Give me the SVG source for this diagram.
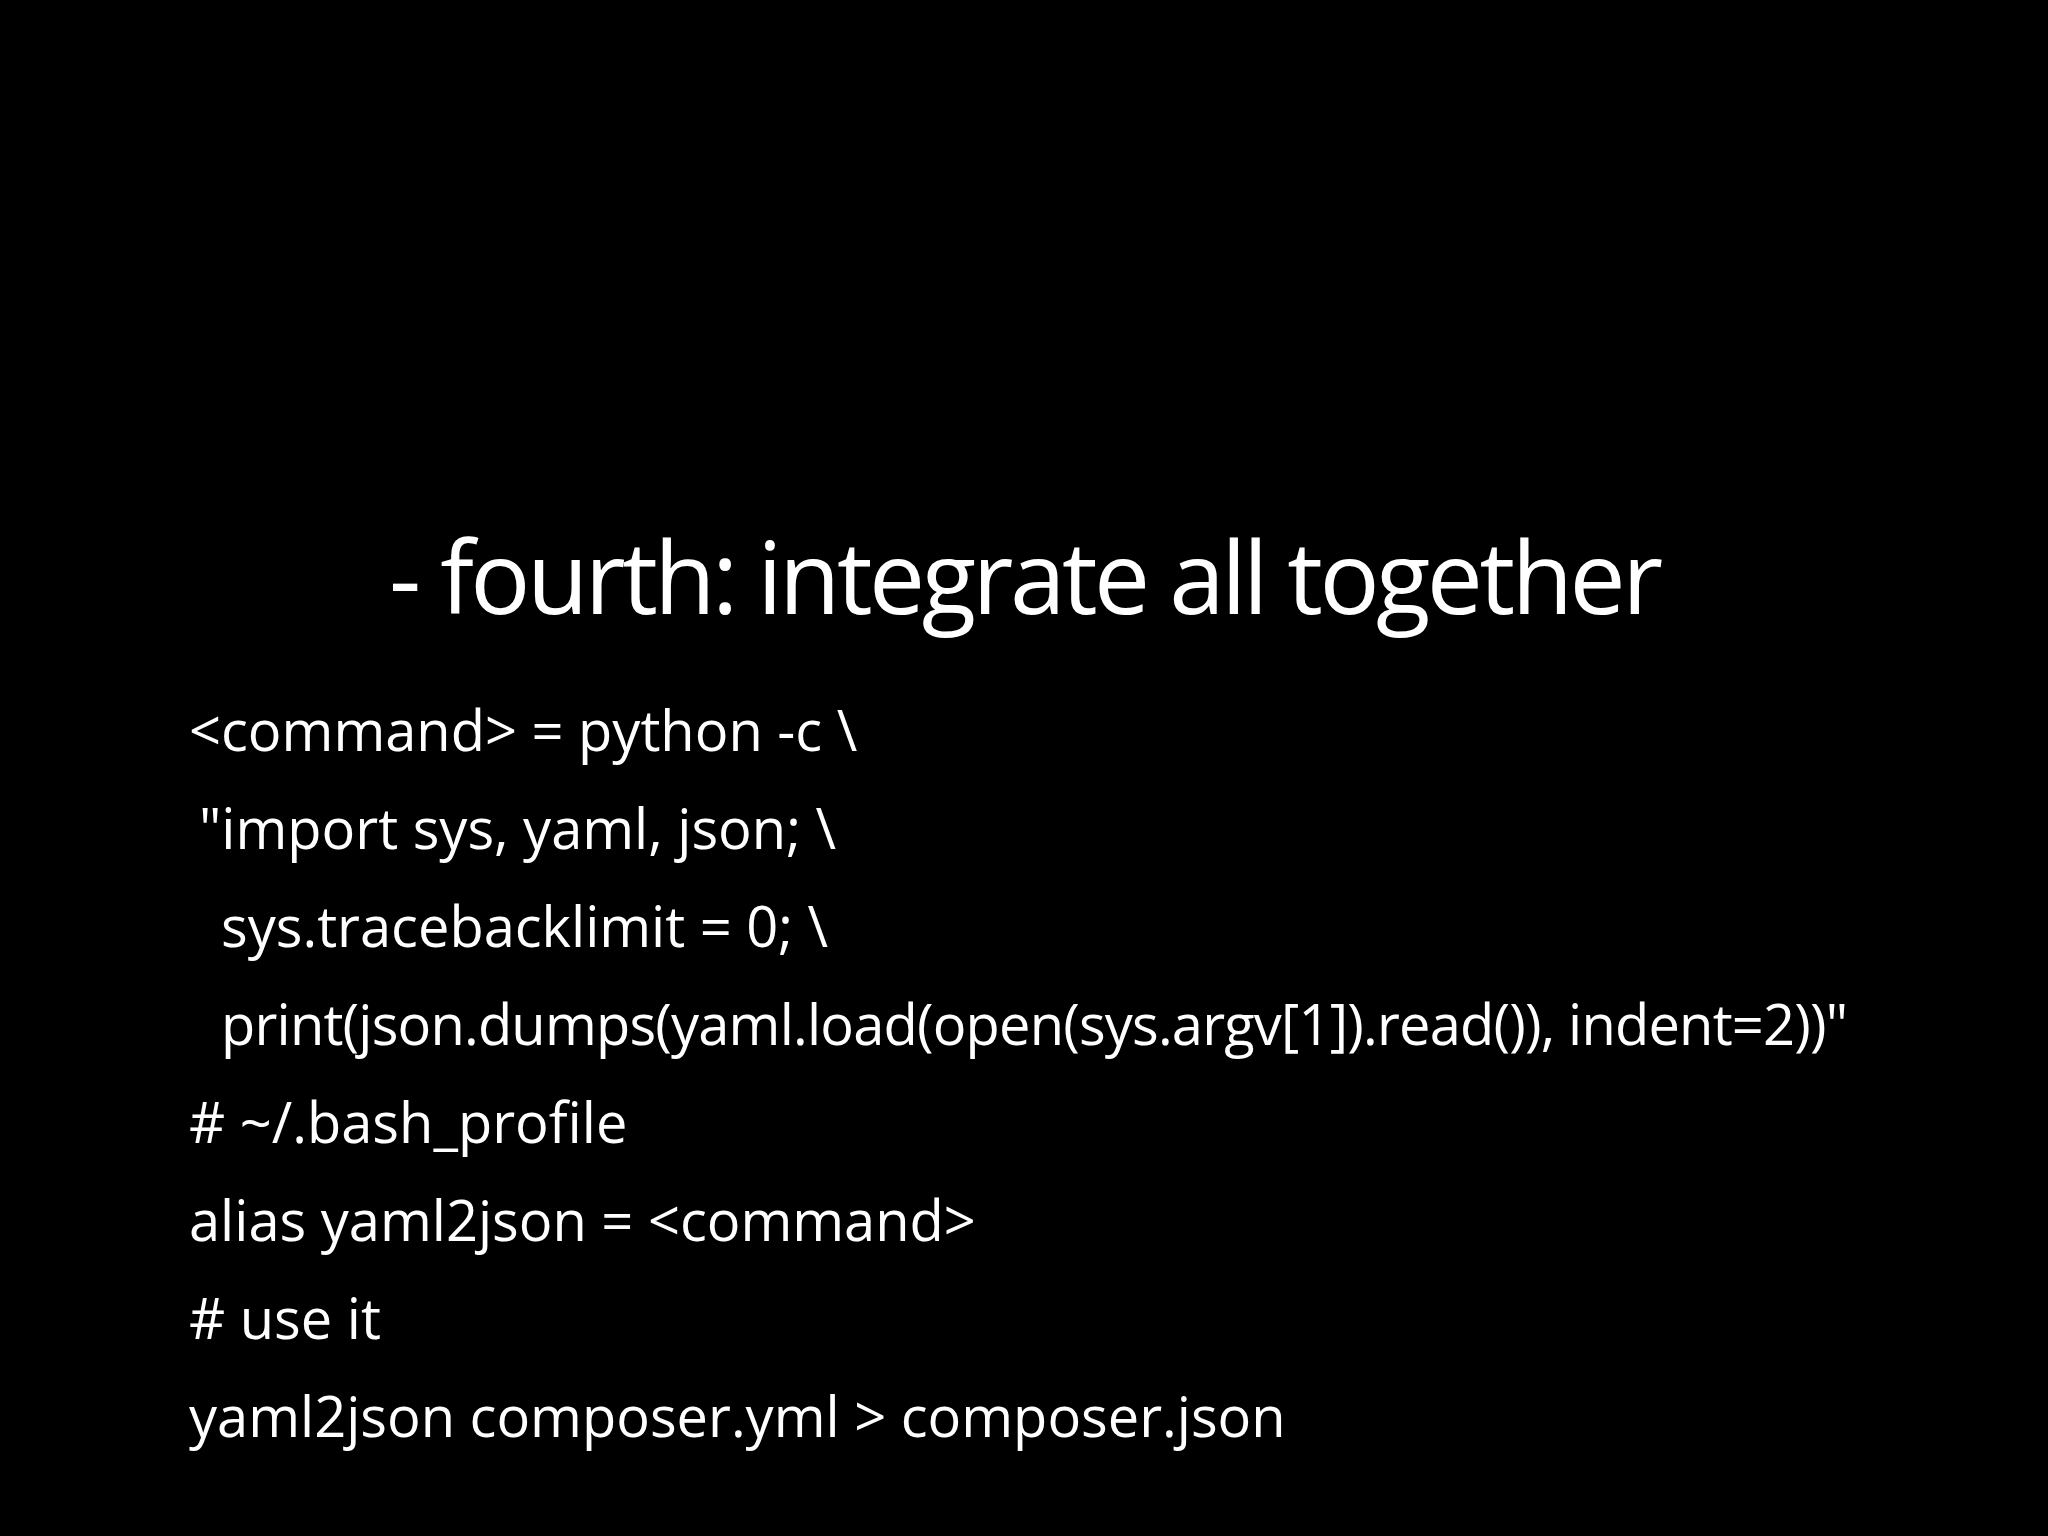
<svg xmlns="http://www.w3.org/2000/svg" width="2048" height="1536" viewBox="0 0 2048 1536">
<style>
text{fill:#fff;font-family:"Open Sans","Noto Sans","DejaVu Sans",sans-serif}
.t{font-size:100px}
.c{font-size:56px;white-space:pre}
</style>
<rect width="2048" height="1536" fill="#000"/>
<g id="title"><text class="t" x="1026" y="614" text-anchor="middle" textLength="1274">- fourth: integrate all together</text></g>
<g id="code">
<text class="c" x="189" y="751">&lt;command&gt; = python -c \</text>
<text class="c" x="199" y="849">"import sys, yaml, json; \</text>
<text class="c" x="221" y="947">sys.tracebacklimit = 0; \</text>
<text class="c" x="221" y="1045" textLength="1627">print(json.dumps(yaml.load(open(sys.argv[1]).read()), indent=2))"</text>
<text class="c" x="189" y="1143"># ~/.bash_profile</text>
<text class="c" x="189" y="1241">alias yaml2json = &lt;command&gt;</text>
<text class="c" x="189" y="1339"># use it</text>
<text class="c" x="189" y="1437">yaml2json composer.yml &gt; composer.json</text>
</g>
</svg>
